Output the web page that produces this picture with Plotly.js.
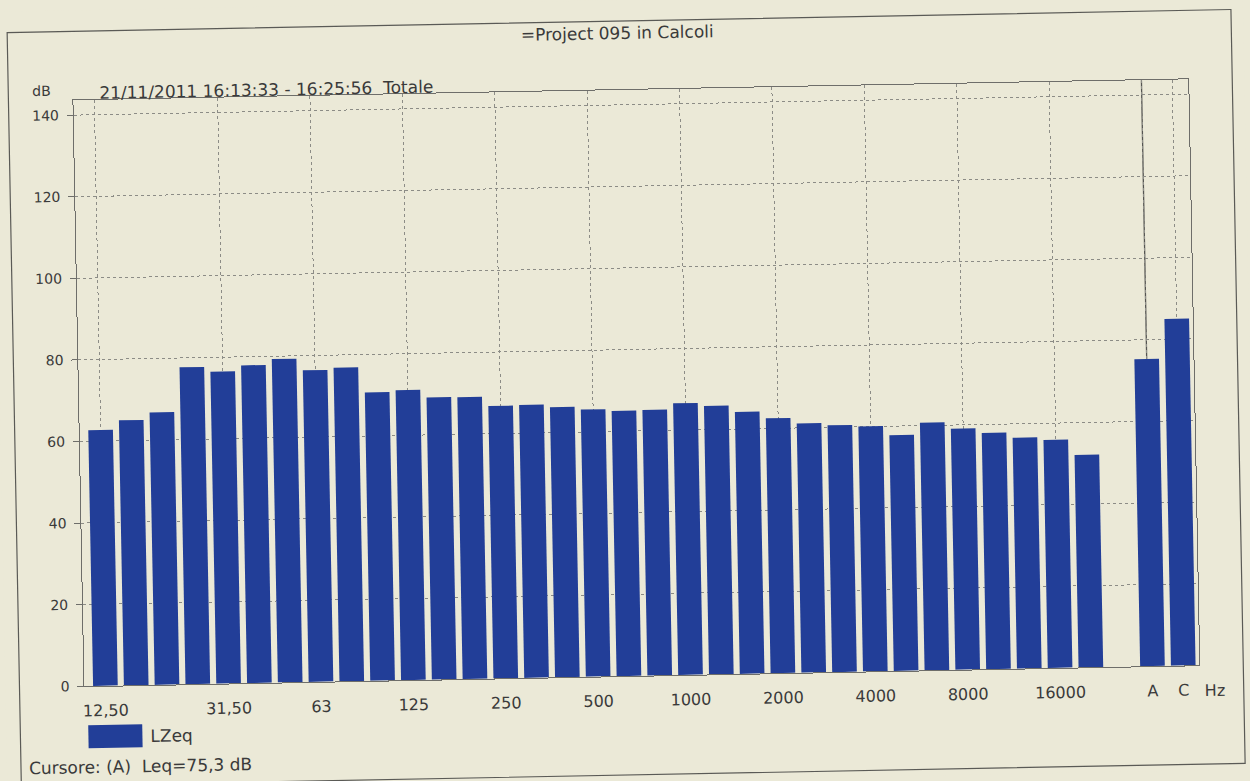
<!DOCTYPE html>
<html>
<head>
<meta charset="utf-8">
<script src="https://cdn.plot.ly/plotly-3.0.1.min.js"></script>
<style>
  html, body { margin: 0; padding: 0; background: #ebe9d7; overflow: hidden; }
  #chart { width: 1250px; height: 781px; transform: rotate(-1.08deg); transform-origin: 625px 390.5px; }
</style>
</head>
<body>
<div id="chart"></div>
<script>
// ---- data ----
const chartTitle = '=Project 095 in Calcoli';
const headerText = '21/11/2011 16:13:33 - 16:25:56 \u00a0Totale';
const yUnit = 'dB';
const xUnit = 'Hz';
const seriesName = 'LZeq';
const cursorText = 'Cursore: (A) \u00a0Leq=75,3 dB';

const bands = ['12,5','16','20','25','31,5','40','50','63','80','100','125','160','200','250','315','400','500','630','800','1000','1250','1600','2000','2500','3150','4000','5000','6300','8000','10000','12500','16000','20000'];
const lzeq = [62.7,65.0,66.8,77.7,76.5,77.9,79.3,76.4,76.9,70.7,71.1,69.2,69.1,66.8,66.9,66.2,65.5,65.0,65.1,66.6,65.8,64.2,62.5,61.1,60.5,60.1,57.8,60.7,59.1,57.9,56.6,55.9,52.1];
const weightLabels = ['A','C'];
const weightValues = [75.3, 85.0];

const tickBands = ['12,5','31,5','63','125','250','500','1000','2000','4000','8000','16000'];
const tickLabels = ['12,50','31,50','63','125','250','500','1000','2000','4000','8000','16000'];
const yTicks = [0,20,40,60,80,100,120,140];

// ---- styling / geometry ----
const FONT = 'DejaVu Sans';
const TXT = '#3a3a3a';
const BAR = '#223e98';
const BG = '#ebe9d7';
const W = 1250, H = 781;
const L = 79, R = 1194, T = 90, B = 676;
const px2x = p => (p - L) / (R - L);
const py2y = p => (B - p) / (B - T);

const bandX = bands.map((b, i) => i);
const weightX = weightLabels.map((w, j) => bands.length + 1 + j);
const tickvals = tickBands.map(b => bands.indexOf(b)).concat(weightX);
const ticktext = tickLabels.concat(weightLabels);

const trace = {
  type: 'bar',
  name: seriesName,
  x: bandX.concat(weightX),
  y: lzeq.concat(weightValues),
  width: 0.8,
  marker: { color: BAR, line: { width: 0 } },
  showlegend: false,
  hoverinfo: 'x+y'
};

const layout = {
  width: W, height: H,
  paper_bgcolor: BG, plot_bgcolor: BG,
  margin: { l: L, r: W - R, t: T, b: H - B, pad: 0 },
  font: { family: FONT, color: TXT, size: 16 },
  title: {
    text: chartTitle,
    font: { family: FONT, size: 17, color: TXT },
    x: 624 / W, xanchor: 'center', xref: 'container',
    y: 1 - 33 / H, yanchor: 'middle', yref: 'container'
  },
  xaxis: {
    range: [-0.68, 35.52],
    tickmode: 'array', tickvals: tickvals, ticktext: ticktext,
    ticks: '', ticklabelstandoff: 10,
    tickfont: { family: FONT, size: 16, color: TXT },
    showgrid: true, gridcolor: '#8c8c86', griddash: 'dot', gridwidth: 1,
    showline: true, linecolor: '#6e6e6a', linewidth: 1, mirror: true,
    zeroline: false, fixedrange: true
  },
  yaxis: {
    range: [0, (B - T) / 4.08],
    tickmode: 'array', tickvals: yTicks, ticktext: yTicks.map(String),
    ticks: 'outside', ticklen: 6, tickcolor: '#6e6e6a', ticklabelstandoff: 5,
    tickfont: { family: FONT, size: 14, color: TXT },
    showgrid: true, gridcolor: '#8c8c86', griddash: 'dot', gridwidth: 1,
    showline: true, linecolor: '#6e6e6a', linewidth: 1, mirror: true,
    zeroline: false, fixedrange: true
  },
  shapes: [
    { type: 'rect', xref: 'paper', yref: 'paper',
      x0: px2x(14), x1: px2x(1238), y0: py2y(775), y1: py2y(21),
      line: { color: '#5a5a56', width: 1.2 }, fillcolor: 'rgba(0,0,0,0)' },
    { type: 'line', xref: 'x', yref: 'paper', layer: 'below',
      x0: weightX[0], x1: weightX[0], y0: 0, y1: 1,
      line: { color: '#555552', width: 1.3 } },
    { type: 'rect', xref: 'paper', yref: 'paper',
      x0: px2x(82), x1: px2x(136), y0: py2y(738), y1: py2y(715),
      line: { width: 0 }, fillcolor: BAR }
  ],
  annotations: [
    { text: yUnit, xref: 'paper', yref: 'paper', x: px2x(47), y: py2y(80),
      xanchor: 'center', yanchor: 'middle', showarrow: false,
      font: { family: FONT, size: 14, color: TXT } },
    { text: headerText, xref: 'paper', yref: 'paper', x: px2x(103), y: py2y(83),
      xanchor: 'left', yanchor: 'middle', showarrow: false,
      font: { family: FONT, size: 17, color: TXT } },
    { text: xUnit, xref: 'paper', yref: 'paper', x: px2x(1197), y: py2y(701),
      xanchor: 'left', yanchor: 'middle', showarrow: false,
      font: { family: FONT, size: 16, color: TXT } },
    { text: seriesName, xref: 'paper', yref: 'paper', x: px2x(142), y: py2y(727),
      xanchor: 'left', yanchor: 'middle', showarrow: false,
      font: { family: FONT, size: 17, color: TXT } },
    { text: cursorText, xref: 'paper', yref: 'paper', x: px2x(20), y: py2y(757),
      xanchor: 'left', yanchor: 'middle', showarrow: false,
      font: { family: FONT, size: 17, color: TXT } }
  ],
  bargap: 0.2,
  showlegend: false
};

Plotly.newPlot('chart', [trace], layout, { displayModeBar: false, staticPlot: true });
</script>
</body>
</html>
